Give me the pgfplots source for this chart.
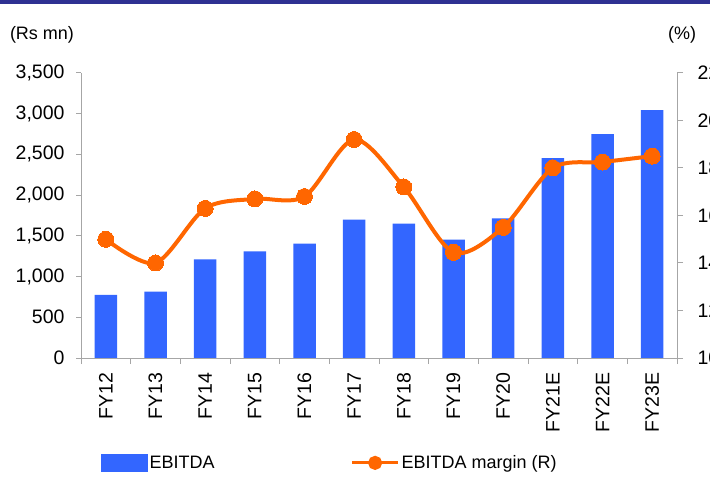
\documentclass[border=0pt]{standalone}
\usepackage{fontspec}
\setmainfont{Liberation Sans}
\usepackage{pgfplots}
\usepackage{pgfplotstable}
\pgfplotsset{compat=1.18}

\definecolor{barblue}{HTML}{3366FF}
\definecolor{lineorange}{HTML}{FF6600}
\definecolor{band}{HTML}{2E3192}
\definecolor{axgray}{HTML}{A6A6A6}

% EBITDA (Rs mn) and EBITDA margin (%)
\pgfplotstableread{
x  val   marg
0  775   15.0
1  815   14.0
2  1210  16.3
3  1310  16.7
4  1405  16.8
5  1700  19.2
6  1650  17.2
7  1455  14.45
8  1715  15.5
9  2455  18.0
10 2750  18.25
11 3045  18.5
}\ebitda

\newcommand{\lbl}{\fontsize{18bp}{21bp}\selectfont}
\newcommand{\tkl}{\fontsize{19.5bp}{22bp}\selectfont}

\begin{document}
\begin{tikzpicture}[font=\lbl]
\path[use as bounding box] (0,0) rectangle (710bp,477bp);
\clip (0,0) rectangle (710bp,477bp);
\fill[band] (0,472.5bp) rectangle (710bp,477bp);
\node at (42bp,442bp) {(Rs mn)};
\node at (682bp,442bp) {(\%)};

\pgfplotsset{
  base/.style={
    scale only axis,
    width=596bp, height=285bp,
    at={(81bp,119bp)}, anchor=south west,
    xmin=-0.5, xmax=11.5,
    axis line style={axgray, line width=1bp},
    tick style={axgray, line width=1bp},
    tick align=outside,
    major tick length=5bp,
    tick label style={font=\tkl},
    /pgf/number format/assume math mode=true,
  }
}

\begin{axis}[
    base,
    ymin=0, ymax=3500,
    ytick={0,500,...,3500},
    axis y line*=left, axis x line*=bottom,
    xtick={0,...,11},
    xticklabels={FY12,FY13,FY14,FY15,FY16,FY17,FY18,FY19,FY20,FY21E,FY22E,FY23E},
    xtick style={draw=none},
    xticklabel style={rotate=90, anchor=east, xshift=-6bp},
    yticklabel style={xshift=-8bp, /pgf/number format/.cd, fixed, 1000 sep={,}},
  ]
\addplot[ybar, bar width=22.5bp, fill=barblue, draw=none] table[x=x, y=val] {\ebitda};
\end{axis}

\begin{axis}[
    base,
    ymin=10, ymax=22,
    ytick={10,12,...,22},
    yticklabel style={xshift=11bp},
    axis y line*=right, axis x line*=bottom,
    xtick={-0.5,0.5,...,11.5},
    xticklabels={},
    major tick length=6bp,
    x axis line style={-},
    y axis line style={-},
    legend style={at={(0.0336,-0.368)}, anchor=west, draw=none, fill=none,
      inner sep=0pt, font=\lbl, legend columns=2,
      /tikz/every even column/.append style={column sep=134bp}},
  ]
\addlegendimage{legend image code/.code={\fill[barblue] (0bp,-8.5bp) rectangle (46bp,8.5bp);}}
\addlegendentry{EBITDA}
\addplot[lineorange, line width=4bp, smooth, mark=*, mark size=8bp,
    mark options={fill=lineorange, draw=lineorange, line width=0pt},
    legend image code/.code={\draw[lineorange, line width=3bp] (0bp,0bp) -- (46bp,0bp);
      \fill[lineorange] (23bp,0bp) circle (5bp);}]
  table[x=x, y=marg] {\ebitda};
\addlegendentry{EBITDA margin (R)}
\end{axis}
\end{tikzpicture}
\end{document}
